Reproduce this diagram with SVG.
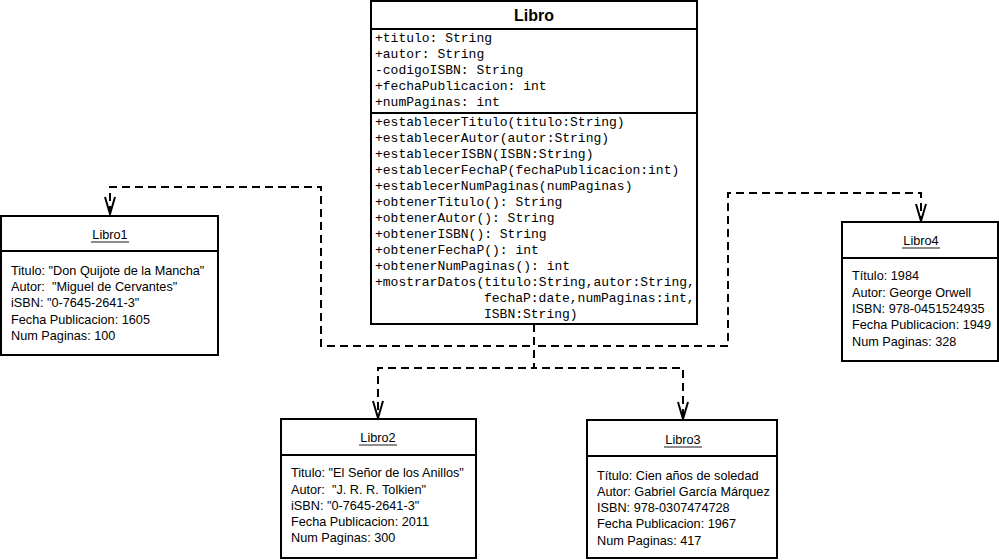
<svg xmlns="http://www.w3.org/2000/svg" width="999" height="560" viewBox="0 0 999 560">
<style>
.box{fill:#fff;stroke:#000;stroke-width:2}
.sep{stroke:#000;stroke-width:2}
.mono{font-family:"Liberation Mono","Courier New",monospace;font-size:13px;fill:#000}
.title{font-family:"Liberation Sans",Arial,sans-serif;font-size:16px;font-weight:bold;fill:#000}
.name{font-family:"Liberation Sans",Arial,sans-serif;font-size:12.7px;fill:#000}
.body{font-family:"Liberation Sans",Arial,sans-serif;font-size:12.7px;fill:#000;white-space:pre}
.ul{stroke:#666;stroke-width:1.5}
.conn{fill:none;stroke:#000;stroke-width:2;stroke-dasharray:8 5}
</style>
<defs>
<marker id="open" markerUnits="userSpaceOnUse" markerWidth="22" markerHeight="16" viewBox="-20 -8 22 16" refX="0" refY="0" orient="auto">
<path d="M-17,-5 L0,0 L-17,5" fill="none" stroke="#000" stroke-width="2"/>
</marker>
</defs>
<rect width="999" height="560" fill="#fff"/>
<g id="connectors">
<path class="conn" d="M534,324 V346 H321 V187 H110 V214" marker-end="url(#open)"/>
<path class="conn" d="M534,324 V346 H728 V193 H921 V221" marker-end="url(#open)"/>
<path class="conn" d="M534,324 V368 H378 V418" marker-end="url(#open)"/>
<path class="conn" d="M534,324 V368 H683 V419" marker-end="url(#open)"/>
</g>
<g id="Libro">
<rect class="box" x="371" y="1" width="326" height="323"/>
<line class="sep" x1="371" y1="29" x2="697" y2="29"/>
<line class="sep" x1="371" y1="113" x2="697" y2="113"/>
<text class="title" x="534" y="21" text-anchor="middle">Libro</text>
<text class="mono" x="375" y="42">+titulo: String</text>
<text class="mono" x="375" y="58">+autor: String</text>
<text class="mono" x="375" y="74">-codigoISBN: String</text>
<text class="mono" x="375" y="90">+fechaPublicacion: int</text>
<text class="mono" x="375" y="106">+numPaginas: int</text>
<text class="mono" x="375" y="126">+establecerTitulo(titulo:String)</text>
<text class="mono" x="375" y="142">+establecerAutor(autor:String)</text>
<text class="mono" x="375" y="158">+establecerISBN(ISBN:String)</text>
<text class="mono" x="375" y="174">+establecerFechaP(fechaPublicacion:int)</text>
<text class="mono" x="375" y="190">+establecerNumPaginas(numPaginas)</text>
<text class="mono" x="375" y="206">+obtenerTitulo(): String</text>
<text class="mono" x="375" y="222">+obtenerAutor(): String</text>
<text class="mono" x="375" y="238">+obtenerISBN(): String</text>
<text class="mono" x="375" y="254">+obtenerFechaP(): int</text>
<text class="mono" x="375" y="270">+obtenerNumPaginas(): int</text>
<text class="mono" x="375" y="286">+mostrarDatos(titulo:String,autor:String,</text>
<text class="mono" x="484" y="302">fechaP:date,numPaginas:int,</text>
<text class="mono" x="484" y="318">ISBN:String)</text>
</g>
<g id="Libro1">
<rect class="box" x="1" y="216" width="217" height="139"/>
<line class="sep" x1="1" y1="251" x2="218" y2="251"/>
<text class="name" x="110" y="239" text-anchor="middle">Libro1</text>
<line class="ul" x1="91" y1="242" x2="129" y2="242"/>
<text class="body" x="11" y="275">Titulo: "Don Quijote de la Mancha"</text>
<text class="body" x="11" y="291">Autor:  "Miguel de Cervantes"</text>
<text class="body" x="11" y="307">iSBN: "0-7645-2641-3"</text>
<text class="body" x="11" y="324">Fecha Publicacion: 1605</text>
<text class="body" x="11" y="340">Num Paginas: 100</text>
</g>
<g id="Libro2">
<rect class="box" x="281" y="419" width="195" height="139"/>
<line class="sep" x1="281" y1="455" x2="476" y2="455"/>
<text class="name" x="378" y="442" text-anchor="middle">Libro2</text>
<line class="ul" x1="359" y1="445" x2="397" y2="445"/>
<text class="body" x="291" y="477">Titulo: "El Señor de los Anillos"</text>
<text class="body" x="291" y="494">Autor:  "J. R. R. Tolkien"</text>
<text class="body" x="291" y="510">iSBN: "0-7645-2641-3"</text>
<text class="body" x="291" y="526">Fecha Publicacion: 2011</text>
<text class="body" x="291" y="542">Num Paginas: 300</text>
</g>
<g id="Libro3">
<rect class="box" x="587" y="420" width="190" height="138"/>
<line class="sep" x1="587" y1="456" x2="777" y2="456"/>
<text class="name" x="683" y="444" text-anchor="middle">Libro3</text>
<line class="ul" x1="664" y1="447" x2="702" y2="447"/>
<text class="body" x="597" y="480">Título: Cien años de soledad</text>
<text class="body" x="597" y="496">Autor: Gabriel García Márquez</text>
<text class="body" x="597" y="512">ISBN: 978-0307474728</text>
<text class="body" x="597" y="528">Fecha Publicacion: 1967</text>
<text class="body" x="597" y="545">Num Paginas: 417</text>
</g>
<g id="Libro4">
<rect class="box" x="842" y="222" width="156" height="139"/>
<line class="sep" x1="842" y1="258" x2="998" y2="258"/>
<text class="name" x="921" y="245" text-anchor="middle">Libro4</text>
<line class="ul" x1="902" y1="248" x2="940" y2="248"/>
<text class="body" x="852" y="280">Título: 1984</text>
<text class="body" x="852" y="297">Autor: George Orwell</text>
<text class="body" x="852" y="313">ISBN: 978-0451524935</text>
<text class="body" x="852" y="329">Fecha Publicacion: 1949</text>
<text class="body" x="852" y="346">Num Paginas: 328</text>
</g>
</svg>
